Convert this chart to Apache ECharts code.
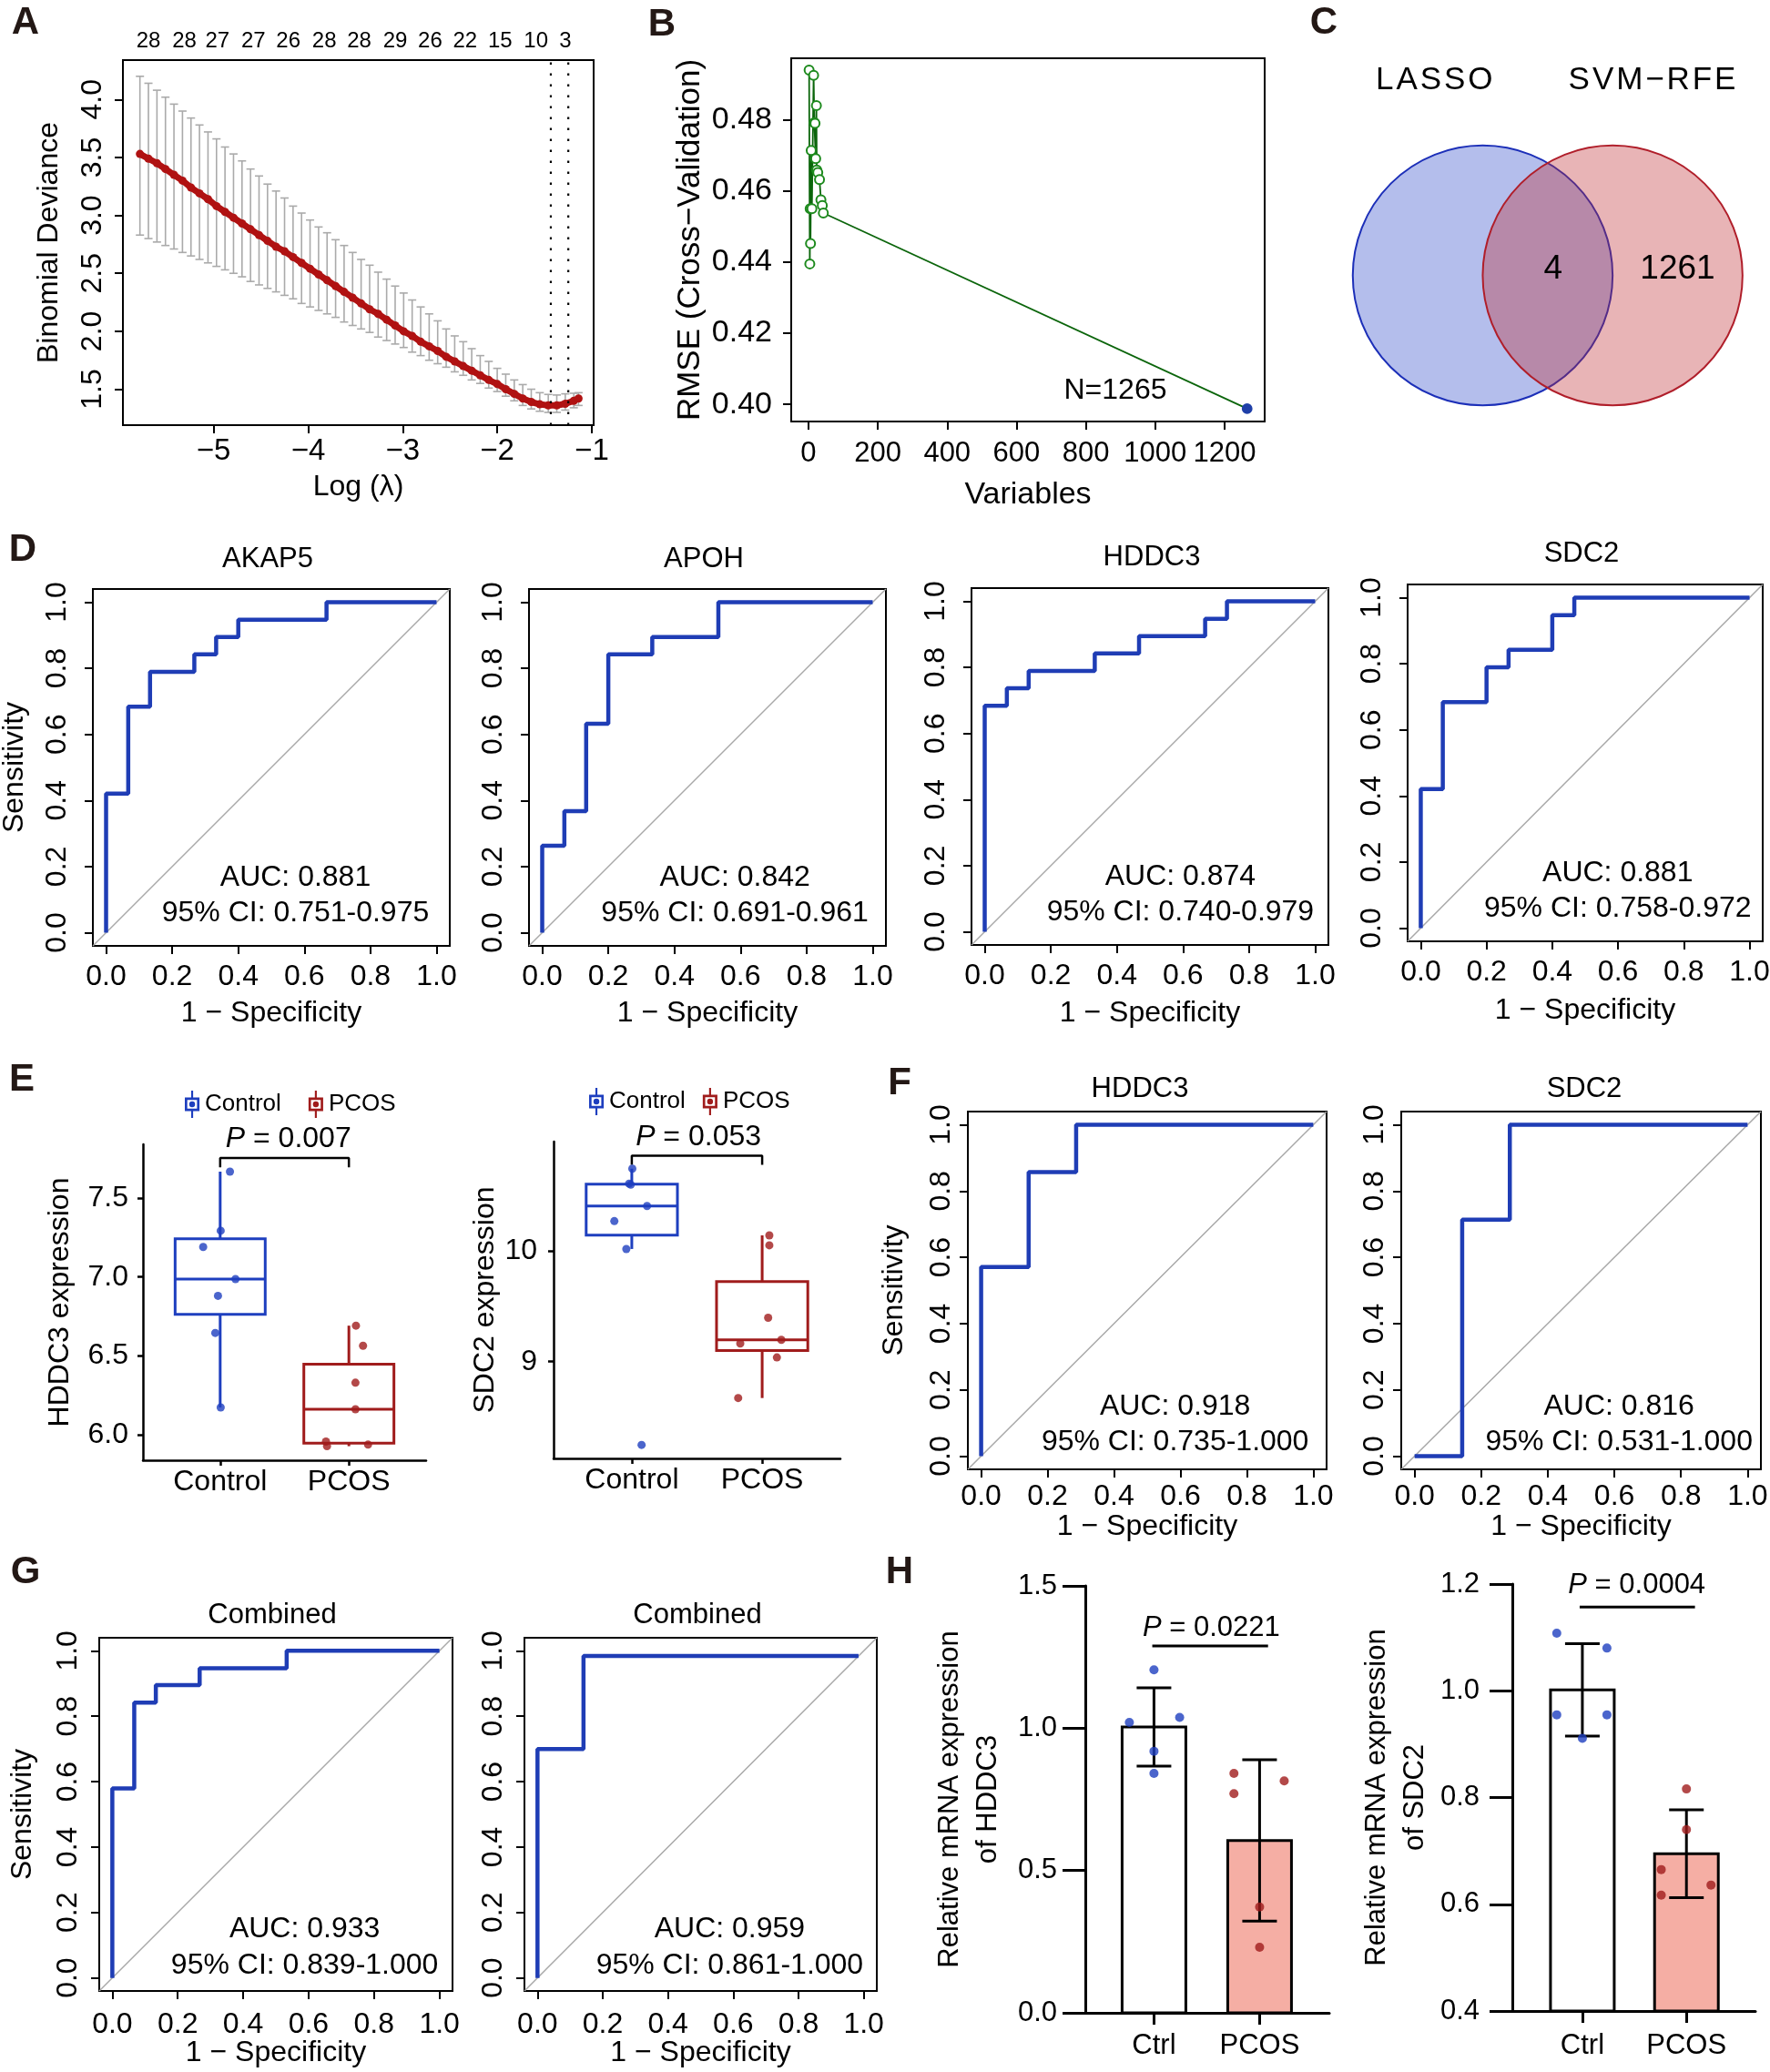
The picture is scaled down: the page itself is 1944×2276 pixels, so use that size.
<!DOCTYPE html>
<html><head><meta charset="utf-8">
<script src="https://cdn.jsdelivr.net/npm/echarts@6/dist/echarts.min.js"></script>
<style>html,body{margin:0;padding:0;background:#fff}#c{width:1944px;height:2276px}</style>
</head><body><div id="c"></div>
<script>
const FF = "'Liberation Sans', Arial, Helvetica, sans-serif";
const BLACK = '#000000';
const ROC_BLUE = '#1f3db5';
const GRP_BLUE = '#1e3fbf';
const GRP_RED = '#a01c1c';
const CV_RED = '#b01212';
const BAR_PINK = '#f5aea4';

// ================= DATA =================
// A: LASSO cross-validation curve
const logLambda = [-5.78,-5.69,-5.60,-5.51,-5.42,-5.33,-5.24,-5.15,-5.06,-4.97,-4.88,-4.79,-4.70,-4.61,-4.52,-4.43,-4.34,-4.25,-4.16,-4.07,-3.98,-3.89,-3.80,-3.71,-3.62,-3.53,-3.44,-3.35,-3.26,-3.17,-3.08,-2.99,-2.90,-2.81,-2.72,-2.63,-2.54,-2.45,-2.36,-2.27,-2.18,-2.09,-2.00,-1.91,-1.82,-1.73,-1.64,-1.55,-1.46,-1.37,-1.28,-1.19,-1.14];
const cvMean = [3.53,3.49,3.45,3.40,3.35,3.30,3.24,3.19,3.14,3.08,3.03,2.98,2.93,2.88,2.83,2.78,2.73,2.69,2.64,2.59,2.54,2.49,2.44,2.39,2.34,2.29,2.24,2.19,2.15,2.10,2.05,2.00,1.96,1.91,1.87,1.83,1.78,1.74,1.70,1.66,1.62,1.58,1.545,1.50,1.46,1.42,1.39,1.37,1.36,1.36,1.375,1.40,1.42];
const cvUpper = [4.20,4.14,4.08,4.02,3.96,3.90,3.84,3.78,3.72,3.66,3.59,3.53,3.47,3.40,3.34,3.27,3.21,3.15,3.08,3.02,2.96,2.90,2.85,2.79,2.74,2.68,2.62,2.57,2.51,2.45,2.39,2.33,2.27,2.21,2.15,2.09,2.02,1.96,1.91,1.85,1.79,1.74,1.68,1.63,1.58,1.54,1.50,1.47,1.455,1.45,1.46,1.465,1.47];
const cvLower = [2.83,2.80,2.77,2.74,2.71,2.68,2.65,2.62,2.59,2.56,2.53,2.50,2.47,2.43,2.40,2.37,2.34,2.31,2.28,2.24,2.21,2.18,2.15,2.12,2.08,2.05,2.02,1.99,1.95,1.92,1.89,1.86,1.82,1.79,1.75,1.72,1.69,1.65,1.62,1.58,1.55,1.51,1.48,1.44,1.40,1.36,1.33,1.31,1.30,1.30,1.32,1.34,1.36];
const nonzeroAt = [-5.69,-5.31,-4.96,-4.58,-4.21,-3.83,-3.46,-3.08,-2.71,-2.34,-1.97,-1.59,-1.28];
const nonzeroCount = ['28','28','27','27','26','28','28','29','26','22','15','10','3'];
const lambdaLines = [-1.433, -1.248];
const aXTicks = [-5,-4,-3,-2,-1];
const aYTicks = [1.5,2.0,2.5,3.0,3.5,4.0];

// B: SVM-RFE
const rfeVariables = [2,4,5,6,8,10,15,17,19,21,23,24,27,32,36,40,43,1265];
const rfeRmse = [0.4940,0.4395,0.4550,0.4452,0.4714,0.4550,0.4925,0.4792,0.4790,0.4691,0.4840,0.4659,0.4652,0.4632,0.4575,0.4559,0.4538,0.3988];
const bXTicks = [0,200,400,600,800,1000,1200];
const bYTicks = [0.40,0.42,0.44,0.46,0.48];

// C: Venn
const vennSetNames = ['LASSO','SVM\u2212RFE'];
const vennOverlap = 4;
const vennSvmOnly = 1261;

// ROC curves (1 - specificity, sensitivity)
const rocTicks = [0,0.2,0.4,0.6,0.8,1.0];
const akap5Fpr = [0,0,0.067,0.067,0.133,0.133,0.267,0.267,0.333,0.333,0.400,0.400,0.667,0.667,1];
const akap5Tpr = [0,0.421,0.421,0.684,0.684,0.789,0.789,0.842,0.842,0.895,0.895,0.947,0.947,1,1];
const apohFpr = [0,0,0.067,0.067,0.133,0.133,0.200,0.200,0.333,0.333,0.533,0.533,1];
const apohTpr = [0,0.263,0.263,0.368,0.368,0.632,0.632,0.842,0.842,0.895,0.895,1,1];
const hddc3Fpr = [0,0,0.067,0.067,0.133,0.133,0.333,0.333,0.467,0.467,0.667,0.667,0.733,0.733,1];
const hddc3Tpr = [0,0.684,0.684,0.737,0.737,0.789,0.789,0.842,0.842,0.895,0.895,0.947,0.947,1,1];
const sdc2Fpr = [0,0,0.067,0.067,0.200,0.200,0.267,0.267,0.400,0.400,0.467,0.467,1];
const sdc2Tpr = [0,0.421,0.421,0.684,0.684,0.789,0.789,0.842,0.842,0.947,0.947,1,1];
const hddc3ValFpr = [0,0,0.143,0.143,0.286,0.286,1];
const hddc3ValTpr = [0,0.571,0.571,0.857,0.857,1,1];
const sdc2ValFpr = [0,0.143,0.143,0.286,0.286,1];
const sdc2ValTpr = [0,0,0.714,0.714,1,1];
const combTrainFpr = [0,0,0.067,0.067,0.133,0.133,0.267,0.267,0.533,0.533,1];
const combTrainTpr = [0,0.579,0.579,0.842,0.842,0.895,0.895,0.947,0.947,1,1];
const combValFpr = [0,0,0.141,0.141,0.984];
const combValTpr = [0,0.700,0.700,0.984,0.984];
const rocAucText = ['AUC: 0.881','AUC: 0.842','AUC: 0.874','AUC: 0.881','AUC: 0.918','AUC: 0.816','AUC: 0.933','AUC: 0.959'];
const rocCiText = ['95% CI: 0.751-0.975','95% CI: 0.691-0.961','95% CI: 0.740-0.979','95% CI: 0.758-0.972','95% CI: 0.735-1.000','95% CI: 0.531-1.000','95% CI: 0.839-1.000','95% CI: 0.861-1.000'];
const rocTitles = ['AKAP5','APOH','HDDC3','SDC2','HDDC3','SDC2','Combined','Combined'];

// E: expression boxplots (7 vs 7)
const groupNames = ['Control','PCOS'];
const hddc3Control = [7.667,7.293,7.190,6.987,6.881,6.646,6.174];
const hddc3ControlJitter = [1.076,1.004,0.868,1.119,0.983,0.962,1.004];
const hddc3Pcos = [6.692,6.565,6.331,6.163,5.958,5.929,5.939];
const hddc3PcosJitter = [2.055,2.110,2.051,2.051,1.822,1.830,2.149];
const sdc2Control = [10.745,10.610,10.600,10.408,10.271,10.019,8.247];
const sdc2ControlJitter = [1.004,0.979,0.992,1.117,0.866,0.958,1.075];
const sdc2Pcos = [10.142,10.052,9.397,9.197,9.164,9.038,8.671];
const sdc2PcosJitter = [2.055,2.055,2.046,2.147,1.832,2.113,1.816];
const ePValues = ['0.007','0.053'];

// H: qPCR (5 vs 5)
const qpcrGroups = ['Ctrl','PCOS'];
const hddc3QpcrCtrl = [1.205,1.020,1.038,0.919,0.841];
const hddc3QpcrCtrlJitter = [1.0,0.767,1.243,1.0,1.0];
const hddc3QpcrPcos = [0.841,0.815,0.770,0.372,0.230];
const hddc3QpcrPcosJitter = [1.757,2.233,1.757,2.0,2.0];
const sdc2QpcrCtrl = [1.108,1.080,0.955,0.955,0.911];
const sdc2QpcrCtrlJitter = [0.754,1.236,0.754,1.236,1.0];
const sdc2QpcrPcos = [0.816,0.740,0.665,0.636,0.617];
const sdc2QpcrPcosJitter = [2.0,2.0,1.758,2.236,1.758];
const hPValues = ['0.0221','0.0004'];

// ================= HELPERS =================
const grids = [], xAxes = [], yAxes = [], series = [], graphics = [];
function addGrid(l, t, w, h, border) {
  grids.push({left:l, top:t, width:w, height:h, show:!!border, borderColor:BLACK, borderWidth:2,
    backgroundColor:'rgba(0,0,0,0)', containLabel:false, outerBoundsMode:'none'});
  return grids.length - 1;
}
function axis(g, o) {
  return {
    type:'value', gridIndex:g, min:o.min, max:o.max, position:o.position,
    axisLine:{show:!!o.line, onZero:false, lineStyle:{color:BLACK, width:o.lineWidth||2}},
    axisTick:{show:!!o.ticks, inside:false, length:o.tickLength||9, lineStyle:{color:BLACK, width:o.tickWidth||2}, customValues:o.ticks},
    axisLabel:{show:!!o.ticks, customValues:o.ticks, formatter:o.fmt, fontSize:o.fontSize||32, fontFamily:FF, color:BLACK,
      margin:(o.margin==null?10:o.margin), rotate:o.rotate||0},
    splitLine:{show:false}, splitArea:{show:false},
    name:o.name||'', nameLocation:'middle', nameGap:o.nameGap||0, nameRotate:o.nameRotate, nameMoveOverlap:false,
    nameTextStyle:{fontSize:o.nameSize||32, fontFamily:FF, color:BLACK, lineHeight:o.nameLineHeight},
    silent:true, z:5
  };
}
function textSeries(g, items) {
  return {type:'custom', coordinateSystem:'cartesian2d', xAxisIndex:g, yAxisIndex:g, clip:false, silent:true, z:20,
    data: items.map((it, i) => [it.x, it.y, i]),
    renderItem: (params, api) => {
      const it = items[api.value(2)];
      const p = api.coord([api.value(0), api.value(1)]);
      return {type:'text', x:p[0] + (it.dx||0), y:p[1] + (it.dy||0),
        style:{text:it.text, fill:BLACK, fontSize:it.size||32, fontFamily:FF, align:it.align||'center', verticalAlign:'middle', rich:it.rich}};
    }};
}
function gtext(text, x, y, size, weight, color) {
  graphics.push({type:'text', x:x, y:y, silent:true, z:100,
    style:{text:text, fill:color||BLACK, fontSize:size, fontFamily:FF, fontWeight:weight||'normal', align:'center', verticalAlign:'middle'}});
}
function pRich(size) { return {i:{fontStyle:'italic', fontSize:size, fontFamily:FF, fill:BLACK}}; }
function q7(s, p) { const h = (s.length - 1) * p, lo = Math.floor(h), hi = Math.ceil(h); return s[lo] + (h - lo) * (s[hi] - s[lo]); }
function boxStats(vals) {
  const s = vals.slice().sort((a, b) => a - b);
  const q1 = q7(s, .25), med = q7(s, .5), q3 = q7(s, .75), iqr = q3 - q1;
  const lo = s.find(v => v >= q1 - 1.5 * iqr);
  const hi = s.slice().reverse().find(v => v <= q3 + 1.5 * iqr);
  return [lo, q1, med, q3, hi];
}
function meanSd(v) {
  const m = v.reduce((a, b) => a + b, 0) / v.length;
  const sd = Math.sqrt(v.reduce((a, b) => a + (b - m) * (b - m), 0) / (v.length - 1));
  return [m, sd];
}

// ================= PANEL A =================
const A_Y = [1.19, 4.34];
const gA = addGrid(135, 66, 517, 401, true);
xAxes.push(axis(gA, {min:-5.96, max:-0.98, position:'bottom', ticks:aXTicks, fmt:v => (v < 0 ? '\u2212' : '') + Math.abs(v),
  margin:12, fontSize:33, name:'Log (\u03bb)', nameGap:52, nameSize:32}));
yAxes.push(axis(gA, {min:A_Y[0], max:A_Y[1], position:'left', ticks:aYTicks, fmt:v => v.toFixed(1), margin:17, fontSize:32, rotate:90,
  name:'Binomial Deviance', nameGap:65, nameRotate:90}));
series.push({type:'custom', xAxisIndex:gA, yAxisIndex:gA, silent:true, z:2,
  data: logLambda.map((x, i) => [x, cvLower[i], cvUpper[i]]),
  renderItem: (params, api) => {
    const x = api.value(0); const lo = api.coord([x, api.value(1)]); const hi = api.coord([x, api.value(2)]);
    const st = {stroke:'#aaaaaa', lineWidth:1.6};
    return {type:'group', children:[
      {type:'line', shape:{x1:lo[0], y1:lo[1], x2:hi[0], y2:hi[1]}, style:st},
      {type:'line', shape:{x1:hi[0]-4.5, y1:hi[1], x2:hi[0]+4.5, y2:hi[1]}, style:st},
      {type:'line', shape:{x1:lo[0]-4.5, y1:lo[1], x2:lo[0]+4.5, y2:lo[1]}, style:st}]};
  }});
series.push({type:'line', xAxisIndex:gA, yAxisIndex:gA, silent:true, z:3, symbol:'circle', symbolSize:9, showSymbol:true,
  itemStyle:{color:CV_RED}, lineStyle:{color:CV_RED, width:7}, data: logLambda.map((x, i) => [x, cvMean[i]])});
lambdaLines.forEach(l => series.push({type:'line', xAxisIndex:gA, yAxisIndex:gA, silent:true, z:4, symbol:'none',
  data:[[l, A_Y[0]], [l, A_Y[1]]], lineStyle:{color:BLACK, width:2.2, type:[2.5, 9.5]}}));
series.push(textSeries(gA, nonzeroAt.map((x, i) => ({x:x, y:A_Y[1], text:nonzeroCount[i], size:24, dy:-21}))));

// ================= PANEL B =================
const gB = addGrid(869, 64, 520, 399, true);
xAxes.push(axis(gB, {min:-49.6, max:1315.6, position:'bottom', ticks:bXTicks, fmt:v => String(v), margin:20, fontSize:31,
  name:'Variables', nameGap:64, nameSize:34}));
yAxes.push(axis(gB, {min:0.3952, max:0.4973, position:'left', ticks:bYTicks, fmt:v => v.toFixed(2), margin:21, fontSize:34,
  name:'RMSE (Cross\u2212Validation)', nameGap:93, nameSize:35, nameRotate:90}));
series.push({type:'line', xAxisIndex:gB, yAxisIndex:gB, silent:true, z:3, symbol:'emptyCircle', symbolSize:10,
  itemStyle:{color:'#1d8a1d', borderWidth:1.8}, lineStyle:{color:'#0b650b', width:1.8},
  data: rfeVariables.map((v, i) => i === rfeVariables.length - 1
    ? {value:[v, rfeRmse[i]], symbol:'circle', symbolSize:10, itemStyle:{color:'#1f3fa8', borderColor:'#1f3fa8'}}
    : [v, rfeRmse[i]])});
series.push(textSeries(gB, [{x:885, y:0.4039, text:'N=' + rfeVariables[rfeVariables.length - 1], size:32}]));

// ================= PANEL C =================
const gC = addGrid(1471.5, 45.7, 456.6, 428.1, false);
xAxes.push(axis(gC, {min:-1.6, max:1.6, position:'bottom'}));
yAxes.push(axis(gC, {min:-1.2, max:1.8, position:'left'}));
const vennFill = ['rgba(40,70,200,0.35)', 'rgba(190,40,45,0.35)'];
const vennStroke = ['#1c2fb8', '#b01e2a'];
series.push({type:'custom', xAxisIndex:gC, yAxisIndex:gC, silent:true, clip:false, z:2,
  data:[[-0.5, 0, 1, 0], [0.5, 0, 1, 1]],
  renderItem: (params, api) => {
    const c = api.coord([api.value(0), api.value(1)]); const r = api.size([api.value(2), 0])[0]; const k = api.value(3);
    return {type:'circle', shape:{cx:c[0], cy:c[1], r:r}, style:{fill:vennFill[k], stroke:vennStroke[k], lineWidth:2}};
  }});
const spaced = s => s.split('').join('\u200a');
series.push(textSeries(gC, [
  {x:-0.873, y:1.5, text:spaced(vennSetNames[0]), size:35},
  {x:0.804, y:1.5, text:spaced(vennSetNames[1]), size:35},
  {x:0.042, y:0.048, text:String(vennOverlap), size:37},
  {x:1.0, y:0.048, text:String(vennSvmOnly), size:37}]));

// ================= ROC PANELS (D, F, G) =================
const rocPanels = [
  {box:[102,647,392,392], title:[294,614], fpr:akap5Fpr, tpr:akap5Tpr, yName:true, xM:18, xG:58, yM:23, yG:70, lx:0.573, ay:0.165, cy:0.060},
  {box:[581,647,392,392], title:[773,614], fpr:apohFpr, tpr:apohTpr, yName:false, xM:18, xG:58, yM:23, yG:70, lx:0.583, ay:0.165, cy:0.060},
  {box:[1067,646,392,392], title:[1265,612], fpr:hddc3Fpr, tpr:hddc3Tpr, yName:false, xM:18, xG:59, yM:23, yG:70, lx:0.592, ay:0.165, cy:0.060},
  {box:[1546,642,390,392], title:[1737,608], fpr:sdc2Fpr, tpr:sdc2Tpr, yName:false, xM:18, xG:60, yM:23, yG:70, lx:0.599, ay:0.165, cy:0.060},
  {box:[1063,1221,394,393], title:[1252,1196], fpr:hddc3ValFpr, tpr:hddc3ValTpr, yName:true, xM:14, xG:47, yM:13, yG:65, lx:0.584, ay:0.148, cy:0.043},
  {box:[1539,1221,395,393], title:[1740,1196], fpr:sdc2ValFpr, tpr:sdc2ValTpr, yName:false, xM:14, xG:47, yM:13, yG:65, lx:0.614, ay:0.148, cy:0.043},
  {box:[109,1799,388,388], title:[299,1774], fpr:combTrainFpr, tpr:combTrainTpr, yName:true, xM:21, xG:52, yM:18, yG:68, lx:0.588, ay:0.148, cy:0.038},
  {box:[576,1799,387,388], title:[766,1774], fpr:combValFpr, tpr:combValTpr, yName:false, xM:21, xG:52, yM:18, yG:68, lx:0.589, ay:0.148, cy:0.038}
];
rocPanels.forEach((p, k) => {
  const g = addGrid(p.box[0], p.box[1], p.box[2], p.box[3], true);
  xAxes.push(axis(g, {min:-0.04, max:1.04, position:'bottom', ticks:rocTicks, fmt:v => v.toFixed(1), margin:p.xM,
    name:'1 \u2212 Specificity', nameGap:p.xG}));
  yAxes.push(axis(g, {min:-0.04, max:1.04, position:'left', ticks:rocTicks, fmt:v => v.toFixed(1), margin:p.yM, rotate:90,
    name:p.yName ? 'Sensitivity' : '', nameGap:p.yG, nameRotate:90}));
  series.push({type:'line', xAxisIndex:g, yAxisIndex:g, silent:true, z:2, symbol:'none',
    data:[[-0.04, -0.04], [1.04, 1.04]], lineStyle:{color:'#a8a8a8', width:1.5}});
  series.push({type:'line', xAxisIndex:g, yAxisIndex:g, silent:true, z:3, symbol:'none',
    data:p.fpr.map((f, i) => [f, p.tpr[i]]), lineStyle:{color:ROC_BLUE, width:4.5}});
  series.push(textSeries(g, [{x:p.lx, y:p.ay, text:rocAucText[k], size:32}, {x:p.lx, y:p.cy, text:rocCiText[k], size:32}]));
  gtext(rocTitles[k], p.title[0], p.title[1], 31);
});

// ================= PANEL E =================
const BOX_ICON = 'path://M2.5,7 L17.5,7 L17.5,21 L2.5,21 Z M5,9.5 L5,18.5 L15,18.5 L15,9.5 Z M9,0 L11,0 L11,7 L9,7 Z M9,21 L11,21 L11,28 L9,28 Z M10,11 A3,3 0 1 1 10,17 A3,3 0 1 1 10,11 Z';
const boxPanels = [
  {box:[157,1257,311,347], y:[5.84,7.84], ticks:[6.0,6.5,7.0,7.5], fmt:v => v.toFixed(1), yM:16, name:'HDDC3 expression', nG:75,
   ctrl:hddc3Control, ctrlJ:hddc3ControlJitter, pcos:hddc3Pcos, pcosJ:hddc3PcosJitter, br:[7.695,7.753], pPos:[1.53,7.875], p:ePValues[0]},
  {box:[608,1254,315,348], y:[8.125,10.99], ticks:[9,10], fmt:v => String(v), yM:18, name:'SDC2 expression', nG:59,
   ctrl:sdc2Control, ctrlJ:sdc2ControlJitter, pcos:sdc2Pcos, pcosJ:sdc2PcosJitter, br:[10.78,10.863], pPos:[1.511,11.03], p:ePValues[1]}
];
function boxRender(color) {
  return (params, api) => {
    const x = api.value(0), hw = 0.35;
    const pMin = api.coord([x, api.value(1)]), pQ1 = api.coord([x, api.value(2)]), pMed = api.coord([x, api.value(3)]);
    const pQ3 = api.coord([x, api.value(4)]), pMax = api.coord([x, api.value(5)]);
    const l = api.coord([x - hw, api.value(3)])[0], r = api.coord([x + hw, api.value(3)])[0];
    const st = {stroke:color, lineWidth:3, fill:null};
    return {type:'group', children:[
      {type:'line', shape:{x1:pQ3[0], y1:pQ3[1], x2:pMax[0], y2:pMax[1]}, style:st},
      {type:'line', shape:{x1:pQ1[0], y1:pQ1[1], x2:pMin[0], y2:pMin[1]}, style:st},
      {type:'rect', shape:{x:l, y:pQ3[1], width:r - l, height:pQ1[1] - pQ3[1]}, style:{stroke:color, lineWidth:3, fill:'#ffffff'}},
      {type:'line', shape:{x1:l, y1:pMed[1], x2:r, y2:pMed[1]}, style:st}]};
  };
}
boxPanels.forEach(p => {
  const g = addGrid(p.box[0], p.box[1], p.box[2], p.box[3], false);
  xAxes.push(axis(g, {min:0.4, max:2.6, position:'bottom', line:true, lineWidth:2.5, ticks:[1,2], tickLength:6, tickWidth:2.5,
    fmt:v => groupNames[Math.round(v) - 1], margin:8}));
  yAxes.push(axis(g, {min:p.y[0], max:p.y[1], position:'left', line:true, lineWidth:2.5, ticks:p.ticks, tickLength:6, tickWidth:2.5,
    fmt:p.fmt, margin:p.yM, name:p.name, nameGap:p.nG, nameRotate:90}));
  series.push({type:'custom', name:groupNames[0], xAxisIndex:g, yAxisIndex:g, silent:true, z:2, itemStyle:{color:GRP_BLUE},
    data:[[1].concat(boxStats(p.ctrl))], renderItem:boxRender(GRP_BLUE)});
  series.push({type:'custom', name:groupNames[1], xAxisIndex:g, yAxisIndex:g, silent:true, z:2, itemStyle:{color:GRP_RED},
    data:[[2].concat(boxStats(p.pcos))], renderItem:boxRender(GRP_RED)});
  series.push({type:'scatter', xAxisIndex:g, yAxisIndex:g, silent:true, z:4, symbolSize:9, itemStyle:{color:GRP_BLUE},
    data:p.ctrl.map((v, i) => [p.ctrlJ[i], v])});
  series.push({type:'scatter', xAxisIndex:g, yAxisIndex:g, silent:true, z:4, symbolSize:9, itemStyle:{color:GRP_RED},
    data:p.pcos.map((v, i) => [p.pcosJ[i], v])});
  series.push({type:'line', xAxisIndex:g, yAxisIndex:g, silent:true, z:4, symbol:'none', clip:false,
    data:[[1, p.br[0]], [1, p.br[1]], [2, p.br[1]], [2, p.br[0]]], lineStyle:{color:BLACK, width:2.5}});
  series.push(textSeries(g, [{x:p.pPos[0], y:p.pPos[1], text:'{i|P} = ' + p.p, size:32, rich:pRich(32)}]));
});
const legendCommon = {orient:'horizontal', itemWidth:18, itemHeight:30, padding:0, selectedMode:false,
  textStyle:{fontSize:26, fontFamily:FF, color:BLACK},
  data:[{name:groupNames[0], icon:BOX_ICON, itemStyle:{color:GRP_BLUE, borderWidth:0}},
        {name:groupNames[1], icon:BOX_ICON, itemStyle:{color:GRP_RED, borderWidth:0}}]};
const legends = [Object.assign({}, legendCommon, {left:203, top:1198, itemGap:30}),
                 Object.assign({}, legendCommon, {left:647, top:1195, itemGap:19})];

// ================= PANEL H =================
const barPanels = [
  {box:[1192,1742,268,469], x:[0.35,2.66], y:[0,1.5], ticks:[0,0.5,1.0,1.5], yM:31, xM:21,
   name:'Relative mRNA expression\nof HDDC3', ctrl:hddc3QpcrCtrl, ctrlJ:hddc3QpcrCtrlJitter, pcos:hddc3QpcrPcos, pcosJ:hddc3QpcrPcosJitter,
   sig:[0.984,2.08,1.289], pPos:[1.542,1.352], p:hPValues[0]},
  {box:[1661,1740,267,469], x:[0.327,2.663], y:[0.4,1.2], ticks:[0.4,0.6,0.8,1.0,1.2], yM:36, xM:23,
   name:'Relative mRNA expression\nof SDC2', ctrl:sdc2QpcrCtrl, ctrlJ:sdc2QpcrCtrlJitter, pcos:sdc2QpcrPcos, pcosJ:sdc2QpcrPcosJitter,
   sig:[0.974,2.082,1.157], pPos:[1.523,1.198], p:hPValues[1]}
];
barPanels.forEach(p => {
  const g = addGrid(p.box[0], p.box[1], p.box[2], p.box[3], false);
  xAxes.push(axis(g, {min:p.x[0], max:p.x[1], position:'bottom', line:true, lineWidth:3, ticks:[1,2], tickLength:13, tickWidth:3,
    fmt:v => qpcrGroups[Math.round(v) - 1], margin:p.xM, fontSize:31}));
  yAxes.push(axis(g, {min:p.y[0], max:p.y[1], position:'left', line:true, lineWidth:3, ticks:p.ticks, tickLength:25, tickWidth:3,
    fmt:v => v.toFixed(1), margin:p.yM, fontSize:31, name:p.name, nameGap:86, nameRotate:90, nameSize:31, nameLineHeight:42}));
  const st = [meanSd(p.ctrl), meanSd(p.pcos)];
  const base = Math.max(0, p.y[0]);
  const fills = ['#ffffff', BAR_PINK];
  series.push({type:'custom', xAxisIndex:g, yAxisIndex:g, silent:true, z:2,
    data:[[1, st[0][0], base, 0], [2, st[1][0], base, 1]],
    renderItem:(params, api) => {
      const x = api.value(0); const top = api.coord([x, api.value(1)]); const bot = api.coord([x, api.value(2)]);
      return {type:'rect', shape:{x:top[0] - 35, y:top[1], width:70, height:bot[1] - top[1]},
        style:{fill:fills[api.value(3)], stroke:BLACK, lineWidth:3}};
    }});
  series.push({type:'custom', xAxisIndex:g, yAxisIndex:g, silent:true, z:3,
    data:[[1, st[0][0], st[0][1]], [2, st[1][0], st[1][1]]],
    renderItem:(params, api) => {
      const x = api.value(0), m = api.value(1), s = api.value(2);
      const up = api.coord([x, m + s]), dn = api.coord([x, m - s]);
      const ls = {stroke:BLACK, lineWidth:3};
      return {type:'group', children:[
        {type:'line', shape:{x1:up[0], y1:up[1], x2:dn[0], y2:dn[1]}, style:ls},
        {type:'line', shape:{x1:up[0]-19, y1:up[1], x2:up[0]+19, y2:up[1]}, style:ls},
        {type:'line', shape:{x1:dn[0]-19, y1:dn[1], x2:dn[0]+19, y2:dn[1]}, style:ls}]};
    }});
  series.push({type:'scatter', xAxisIndex:g, yAxisIndex:g, silent:true, z:4, symbolSize:10, itemStyle:{color:GRP_BLUE},
    data:p.ctrl.map((v, i) => [p.ctrlJ[i], v])});
  series.push({type:'scatter', xAxisIndex:g, yAxisIndex:g, silent:true, z:4, symbolSize:10, itemStyle:{color:GRP_RED},
    data:p.pcos.map((v, i) => [p.pcosJ[i], v])});
  series.push({type:'line', xAxisIndex:g, yAxisIndex:g, silent:true, z:4, symbol:'none', clip:false,
    data:[[p.sig[0], p.sig[2]], [p.sig[1], p.sig[2]]], lineStyle:{color:BLACK, width:3}});
  series.push(textSeries(g, [{x:p.pPos[0], y:p.pPos[1], text:'{i|P} = ' + p.p, size:31, rich:pRich(31)}]));
});

// ================= PANEL LETTERS =================
[['A',28,25],['B',727,27],['C',1454,25],['D',25,604],['E',24,1186],['F',988,1190],['G',28,1727],['H',988,1727]]
  .forEach(l => gtext(l[0], l[1], l[2], 42, 'bold', '#231815'));

const chart = echarts.init(document.getElementById('c'), null, {renderer:'canvas', width:1944, height:2276});
chart.setOption({
  animation:false, backgroundColor:'#ffffff', textStyle:{fontFamily:FF},
  grid:grids, xAxis:xAxes, yAxis:yAxes, series:series, legend:legends, graphic:graphics
});
</script></body></html>
